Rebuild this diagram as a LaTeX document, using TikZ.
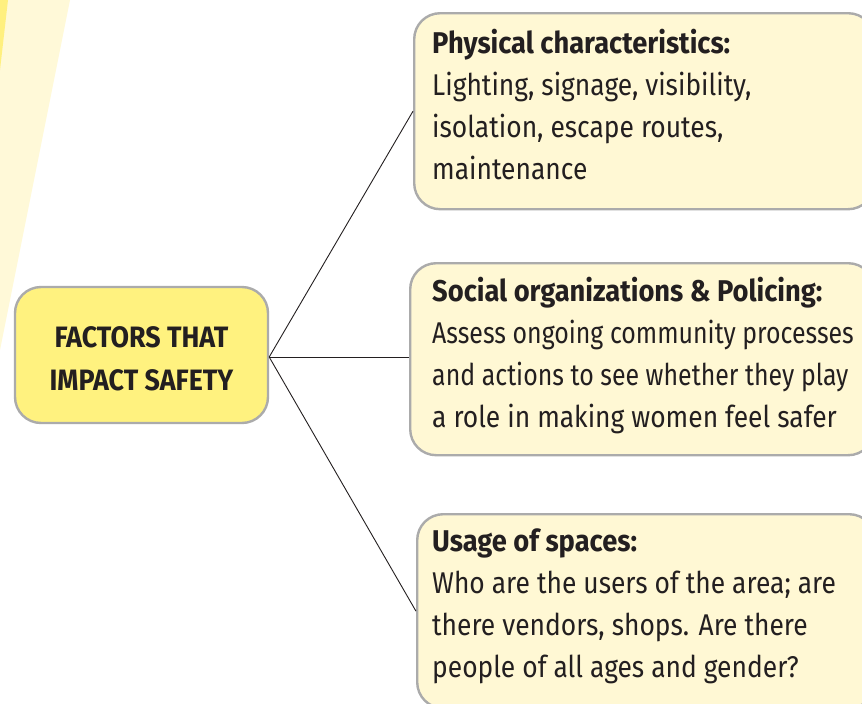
\documentclass[tikz,border=0pt]{standalone}
\usepackage{fontspec}
\setmainfont[FakeStretch=0.88,BoldFeatures={FakeStretch=0.91}]{Fira Sans}
\newfontfamily\tightfont[FakeStretch=0.83]{Fira Sans}
\definecolor{bandlight}{HTML}{FFF9D8}
\definecolor{banddark}{HTML}{FFF07F}
\definecolor{hubfill}{HTML}{FFF27F}
\definecolor{leaffill}{HTML}{FFF8D4}
\definecolor{edgegray}{HTML}{ABABAB}
\definecolor{ink}{HTML}{231F20}
\tikzset{
  hubbox/.style={draw=edgegray, line width=2.4pt, fill=hubfill, rounded corners=26pt, inner sep=0pt},
  leafbox/.style={draw=edgegray, line width=2.4pt, fill=leaffill, rounded corners=26pt, inner sep=0pt},
  leaftext/.style={anchor=north west, align=left, inner sep=0pt, text=ink,
     font=\fontsize{30}{42}\selectfont},
  hubtext/.style={align=center, inner sep=0pt, text=ink, font=\fontsize{29.5}{43}\selectfont\bfseries},
  link/.style={draw=ink, line width=0.9pt}
}
\begin{document}
\begin{tikzpicture}[x=1pt,y=-1pt]
\useasboundingbox (0,0) rectangle (862,704);
\clip (0,0) rectangle (862,704);
\fill[bandlight] (0,0) -- (70,0) -- (0,350) -- cycle;
\fill[banddark] (0,0) -- (8,0) -- (0,70) -- cycle;
% boxes
\node[hubbox, minimum width=253pt, minimum height=136pt] (hub) at (141.5,355) {};
\node[leafbox, minimum width=460pt, minimum height=196pt, anchor=north west] (b1) at (413,12) {};
\node[leafbox, minimum width=464pt, minimum height=192pt, anchor=north west] (b2) at (409,262) {};
\node[leafbox, minimum width=458pt, minimum height=194pt, anchor=north west] (b3) at (416,513) {};
\coordinate (port) at ([yshift=-2pt]hub.east);
% connectors
\draw[link] (port) -- (b1.west);
\draw[link] (port) -- (port -| b2.west);
\draw[link] (port) -- (b3.west);
% texts
\node[hubtext] (hubt) at (141.5,359) {FACTORS THAT\\IMPACT SAFETY};
\node[leaftext] (t1) at (432,29) {\textbf{Physical characteristics:}\\Lighting, signage, visibility,\\isolation, escape routes,\\maintenance};
\node[leaftext] (t2) at (432,277) {\textbf{Social organizations \& Policing:}\\{\tightfont Assess ongoing community processes}\\{\tightfont and actions to see whether they play}\\a role in making women feel safer};
\node[leaftext] (t3) at (432,529) {\textbf{Usage of spaces:}\\Who are the users of the area; are\\there vendors, shops. Are there\\people of all ages and gender?};
\end{tikzpicture}
\end{document}
